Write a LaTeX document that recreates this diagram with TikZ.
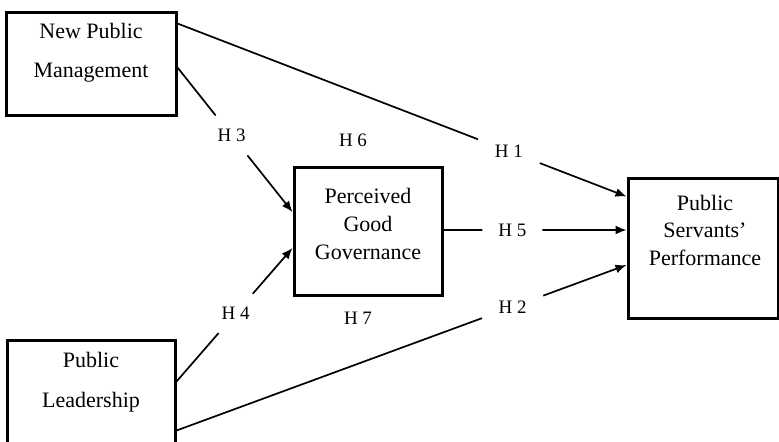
\documentclass[tikz,border=0pt]{standalone}
\usepackage{fontspec}
\setmainfont{Liberation Serif}
\usetikzlibrary{arrows.meta}
\begin{document}
\begin{tikzpicture}[x=0.5pt, y=-0.5pt,
	box/.style={draw, line width=1.5pt, inner sep=0pt},
	link/.style={line width=0.85pt},
	arrow/.style={link, -{Latex[length=5.5pt,width=4.5pt]}},
	hyp/.style={circle, fill=white, inner sep=0pt, font=\fontsize{9.5}{11}\selectfont},
	boxtext/.style={align=center, inner sep=0pt}]
	\clip (0,0) rectangle (779,441);
	
	\node[box, minimum width=85pt, minimum height=51.5pt] (npm) at (91,63.5) {};
	\node[box, minimum width=84pt, minimum height=65pt] (pl) at (91,405) {};
	\node[box, minimum width=74pt, minimum height=64pt] (pgg) at (368,231) {};
	\node[box, minimum width=75pt, minimum height=70pt] (psp) at (703,248) {};
	
	\node[boxtext, font=\fontsize{11}{19.5}\selectfont] (npmtext) at (91,52.5) {New Public\\Management};
	\node[boxtext, font=\fontsize{11}{20}\selectfont] (pltext) at (91,382) {Public\\Leadership};
	\node[boxtext, font=\fontsize{11}{14}\selectfont] (pggtext) at (368,224) {Perceived\\Good\\Governance};
	\node[boxtext, font=\fontsize{11}{13.75}\selectfont] (psptext) at (705,230) {Public\\Servants'\\Performance};
	
	\draw[arrow] ([yshift=-6.5pt]npm.north east) -- node[hyp, pos=0.738, minimum size=33pt] (h1) {H 1} ([yshift=-10pt]psp.north west);
	\draw[arrow] ([yshift=-2pt]npm.east) -- node[hyp, pos=0.47, minimum size=25.5pt] (h3) {H 3} ([yshift=9.5pt]pgg.west);
	\draw[arrow] ([yshift=-21.5pt]pl.north east) -- node[hyp, pos=0.51, minimum size=26pt] (h4) {H 4} ([yshift=-8.5pt]pgg.west);
	\draw[arrow] ([yshift=0.5pt]pgg.east) -- node[hyp, pos=0.376, minimum size=30pt] (h5) {H 5} ([yshift=9pt]psp.west);
	\draw[arrow] ([yshift=-46pt]pl.north east) -- node[hyp, pos=0.747, minimum size=32.5pt] (h2) {H 2} ([yshift=-8.5pt]psp.west);
	
	\node[hyp] (h6) at (353,140) {H 6};
	\node[hyp] (h7) at (358,318) {H 7};
\end{tikzpicture}
\end{document}
